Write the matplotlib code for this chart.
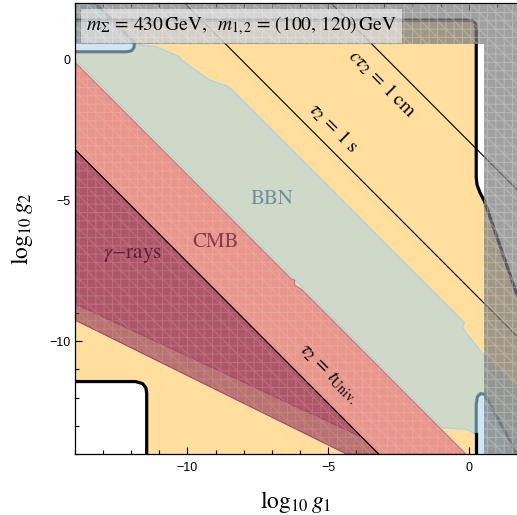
import matplotlib
matplotlib.use("Agg")
import matplotlib.pyplot as plt
from matplotlib.patches import Polygon

plt.rcParams["mathtext.fontset"] = "stix"
plt.rcParams["font.family"] = ["STIXGeneral", "DejaVu Serif"]
plt.rcParams["hatch.linewidth"] = 0.8

# axis ranges (log10 g1, log10 g2)
x_range = [-14, 1.72]
y_range = [-14, 2]
x_major = [-10, -5, 0]
y_major = [0, -5, -10]

# lifetime contours: log10 g1 + log10 g2 = const
tau_consts = [-2.9, -8.1, -17.2]
tau_texts = [r"$c\tau_2\,=\,1\;\mathrm{cm}$", r"$\tau_2\,=\,1\;\mathrm{s}$",
             r"$\tau_2\,=\,t_{\mathrm{Univ.}}$"]
tau_text_x = [-3.07, -4.82, -4.99]
tau_text_y = [-0.87, -2.41, -11.15]

# perturbativity bound log10 sqrt(4 pi)
g_max = 0.55

# allowed relic region (inside the black contour)
allowed_x = [-14, 0.0, 0.14, 0.23, 0.27, 0.27, 0.30, 0.40, 0.57, 1.72, 1.72, 1.35,
             0.27, 0.27, -11.45, -11.45, -11.48, -11.6, -11.85, -14]
allowed_y = [1.39, 1.39, 1.36, 1.28, 1.12, -4.2, -4.45, -4.72, -5.05, -8.35, -13.97,
             -13.3, -13.3, -14, -14, -11.85, -11.65, -11.5, -11.43, -11.43]

# BBN exclusion
bbn_x = [-14, -14, -11.9, -11.11, -10.28, -10.22, -9.22, -8.58, -8.40, -0.14, -0.22,
         -0.10, 0.57, 1.72, 1.72, 0.57, -0.08, -0.93]
bbn_y = [0.0, 0.4, 0.55, 0.45, 0.09, -0.02, -0.73, -0.95, -1.09, -9.35, -9.5,
         -9.68, -10.54, -11.7, -14.0, -13.47, -13.12, -13.07]

# CMB exclusion
cmb_x = [-14, -6.3, -6.19, -6.19, -5.93, -0.1, -3.2, -3.8, -14]
cmb_y = [-0.1, -7.8, -7.83, -8.0, -8.17, -14.0, -14.0, -13.4, -8.67]

# gamma-ray exclusion
gam_x = [-14, -3.2, -4.35, -14]
gam_y = [-3.2, -14.0, -14.0, -9.25]

# light blue regions
blue1_x = [-14, -12.15, -11.98, -11.9, -11.89, -13.3, -14]
blue1_y = [0.27, 0.27, 0.31, 0.42, 0.6, 2.0, 2.0]
blue2_x = [0.27, 0.27, 0.31, 0.42, 0.57, 1.57, 1.72, 1.72, 0.27]
blue2_y = [-13.3, -12.25, -11.97, -11.86, -11.88, -13.72, -14.0, -14.0, -14.0]

C_ORANGE = "#FFDE9E"
C_BBN = "#CFD9C8"
C_CMB = "#E8968C"
C_GAM = "#8A2A50"
C_BLUE = "#CDE8F2"
C_BLUE_EDGE = "#5E7D8C"

fig = plt.figure(figsize=(5.17, 5.15), dpi=100)
ax = fig.add_axes([75 / 517, 61 / 515, 442 / 517, 451 / 515])
ax.set_xlim(x_range)
ax.set_ylim(y_range)


def poly(xs, ys, **kw):
    p = Polygon(list(zip(xs, ys)), closed=True, **kw)
    ax.add_patch(p)
    return p


poly(allowed_x, allowed_y, fc=C_ORANGE, ec="none", zorder=1)
poly(bbn_x, bbn_y, fc=C_BBN, ec="#A9D3E6", lw=0.9, zorder=2)
poly(cmb_x, cmb_y, fc=C_CMB, ec="#C4708C", lw=0.8, zorder=3)
poly(cmb_x, cmb_y, fc="none", ec=(1, 1, 1, 0.13), lw=0, hatch="++\\\\", zorder=3.1)
poly(gam_x, gam_y, fc=C_GAM, alpha=0.6, ec="none", zorder=4)
poly(gam_x, gam_y, fc="none", ec=(0.55, 0.2, 0.4, 0.9), lw=0.7, zorder=4.05)
poly(gam_x, gam_y, fc="none", ec=(1, 1, 1, 0.12), lw=0, hatch="++\\\\", zorder=4.1)

# light blue regions and their outlines
poly(blue1_x, blue1_y, fc=C_BLUE, ec="none", zorder=5)
ax.plot(blue1_x[:6], blue1_y[:6], color=C_BLUE_EDGE, lw=2.2, zorder=5.5,
        solid_capstyle="butt")
poly(blue2_x, blue2_y, fc=C_BLUE, ec="none", zorder=5)
ax.plot(blue2_x[:7], blue2_y[:7], color=C_BLUE_EDGE, lw=2.2, zorder=5.5,
        solid_capstyle="butt")

# thick black contour of the relic-density region
ax.plot(allowed_x[:10], allowed_y[:10], color="black", lw=2.3, zorder=6,
        solid_joinstyle="round")
ax.plot(allowed_x[12:14], allowed_y[12:14], color="black", lw=2.3, zorder=6)
ax.plot(allowed_x[14:] + [-14], allowed_y[14:] + [-11.43], color="black", lw=2.3,
        zorder=6, solid_joinstyle="round")

# lifetime lines
for c in tau_consts:
    xs = [x_range[0] - 1, x_range[1] + 1]
    ax.plot(xs, [c - x for x in xs], color="black", lw=0.8, zorder=6.5)

for t, tx, ty in zip(tau_texts, tau_text_x, tau_text_y):
    ax.text(tx, ty, t, rotation=-45, ha="center", va="center", fontsize=14,
            zorder=8, rotation_mode="anchor")

# non-perturbative couplings (grey band)
grey_x = [-15, 3, 3, g_max, g_max, -15]
grey_y = [3, 3, -15, -15, g_max, g_max]
poly(grey_x, grey_y, fc="#7C7C7C", alpha=0.72, ec="none", zorder=7)
poly(grey_x, grey_y, fc="none", ec=(0.88, 0.88, 0.88, 0.35), lw=0, hatch="++\\\\",
     zorder=7.1)

# region names
ax.text(-6.99, -4.95, "BBN", color="#6E8FA0", fontsize=15, ha="center", va="center",
        zorder=8)
ax.text(-9.0, -6.47, "CMB", color="#8C3A4E", fontsize=15, ha="center", va="center",
        zorder=8)
ax.text(-11.96, -6.96, r"$\gamma$$-$rays", color="#5C1E3A", fontsize=15,
        ha="center", va="center", zorder=8)

ax.text(0.025, 0.949,
        r"$m_\Sigma\,=\,430\,\mathrm{GeV},\;\;m_{1,2}\,=\,(100,\,120)\,\mathrm{GeV}$",
        transform=ax.transAxes, fontsize=14, ha="left", va="center", zorder=9,
        bbox=dict(boxstyle="square,pad=0.28", fc="white", alpha=0.55, ec="none"))

# axes styling
ax.set_xticks(x_major)
ax.set_yticks(y_major)
ax.set_xticks(range(-14, 2), minor=True)
ax.set_yticks(range(-14, 3), minor=True)
ax.tick_params(which="both", direction="in", top=True, right=False, color="black",
               width=0.8, labelfontfamily="Liberation Sans", labelsize=9)
ax.tick_params(which="major", length=5)
ax.tick_params(which="minor", length=3)
ax.tick_params(axis="x", pad=5.5)
ax.tick_params(axis="y", pad=3.5)
ax.spines["right"].set_visible(False)
for s in ("left", "bottom", "top"):
    ax.spines[s].set_linewidth(0.9)
    ax.spines[s].set_zorder(10)

ax.set_xlabel(r"$\log_{10}g_1$", fontsize=17, labelpad=11)
ax.set_ylabel(r"$\log_{10}g_2$", fontsize=17, labelpad=10)

fig.savefig("out.png", dpi=100)
